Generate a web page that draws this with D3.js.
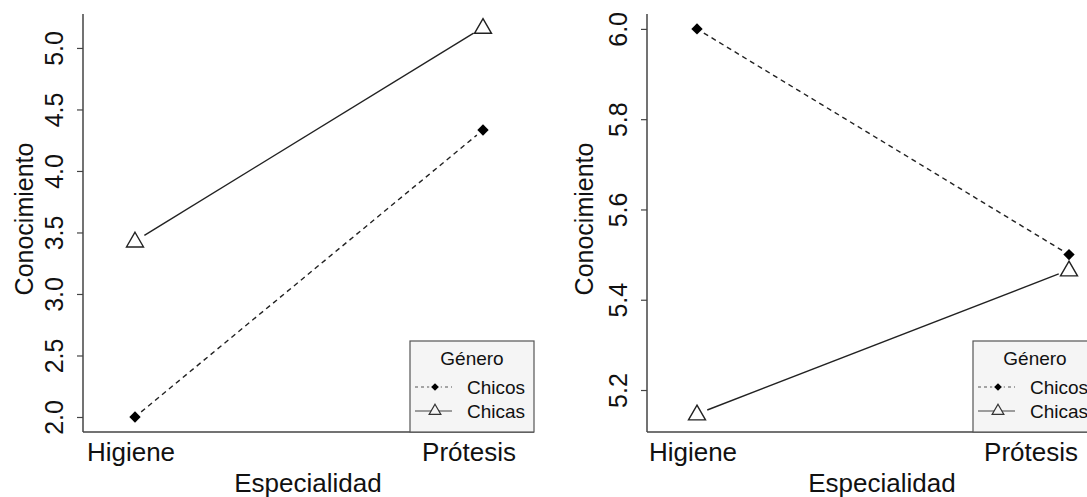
<!DOCTYPE html>
<html>
<head>
<meta charset="utf-8">
<script src="https://cdn.jsdelivr.net/npm/d3@7"></script>
<style>
  html, body { margin: 0; padding: 0; background: #fff; }
  svg { display: block; font-family: "Liberation Sans", Arial, sans-serif; }
</style>
</head>
<body>
<svg id="chart" width="1087" height="497"></svg>
<script>
// Specialties on the x axis
const especialidades = ["Higiene", "Prótesis"];
// Gender groups (legend order)
const generos = ["Chicos", "Chicas"];

// Mean knowledge scores, panel 1
const chicos1 = [2.0, 4.333];
const chicas1 = [3.43, 5.167];
// Mean knowledge scores, panel 2
const chicos2 = [6.0, 5.5];
const chicas2 = [5.147, 5.466];

// Tick labels for the y axes
const ticks1 = [2.0, 2.5, 3.0, 3.5, 4.0, 4.5, 5.0];
const ticks2 = [5.2, 5.4, 5.6, 5.8, 6.0];

const svg = d3.select("#chart");
const axisColor = "#444";
const lineColor = "#222";

function panel(cfg) {
  const g = svg.append("g");
  const x = d3.scalePoint().domain(especialidades).range([cfg.xH, cfg.xP]);
  const y = d3.scaleLinear().domain(cfg.yDomain).range([cfg.bottom, cfg.top]);

  // clip so the legend can run off the page edge
  // y axis with rotated tick labels
  const yAx = d3.axisLeft(y).tickValues(cfg.ticks).tickSize(6).tickFormat(d3.format(".1f"));
  const ya = g.append("g").attr("transform", `translate(${cfg.left},0)`).call(yAx);
  ya.select(".domain").remove();
  ya.selectAll(".tick line").attr("stroke", axisColor).attr("stroke-width", 1.2);
  ya.selectAll(".tick text")
    .attr("x", null).attr("dy", null)
    .attr("transform", `translate(${cfg.tickBase - cfg.left},0) rotate(-90)`)
    .attr("text-anchor", "middle")
    .attr("fill", "#111")
    .style("font-size", "25px")
    .style("font-family", "Liberation Sans, Arial, sans-serif");

  // L-shaped frame
  g.append("line").attr("x1", cfg.left).attr("x2", cfg.left)
    .attr("y1", cfg.top).attr("y2", cfg.bottom)
    .attr("stroke", axisColor).attr("stroke-width", 1.5);
  g.append("line").attr("x1", cfg.left).attr("x2", cfg.right)
    .attr("y1", cfg.bottom).attr("y2", cfg.bottom)
    .attr("stroke", axisColor).attr("stroke-width", 1.5);

  // y axis title
  g.append("text")
    .attr("transform", `translate(${cfg.labBase},${(cfg.top + cfg.bottom) / 2 - 4}) rotate(-90)`)
    .attr("text-anchor", "middle").attr("fill", "#111")
    .style("font-size", "25px").text("Conocimiento");

  // x tick labels
  g.append("text").attr("x", x("Higiene") - 4).attr("y", 461)
    .attr("text-anchor", "middle").attr("fill", "#111")
    .style("font-size", "26px").text("Higiene");
  g.append("text").attr("x", x("Prótesis") + cfg.protShift).attr("y", 461)
    .attr("text-anchor", "end").attr("fill", "#111")
    .style("font-size", "26px").text("Prótesis");

  // x axis title
  g.append("text").attr("x", (cfg.xH + cfg.xP) / 2 - 1).attr("y", 492)
    .attr("text-anchor", "middle").attr("fill", "#111")
    .style("font-size", "26px").text("Especialidad");

  // series lines with small gaps around the points
  const series = [
    { name: "Chicos", vals: cfg.chicos, dash: "5,4", gap: 8 },
    { name: "Chicas", vals: cfg.chicas, dash: null, gap: 11 }
  ];
  series.forEach(s => {
    const x1 = x(especialidades[0]), y1 = y(s.vals[0]);
    const x2 = x(especialidades[1]), y2 = y(s.vals[1]);
    const len = Math.hypot(x2 - x1, y2 - y1);
    const ux = (x2 - x1) / len, uy = (y2 - y1) / len;
    g.append("line")
      .attr("x1", x1 + ux * s.gap).attr("y1", y1 + uy * s.gap)
      .attr("x2", x2 - ux * s.gap).attr("y2", y2 - uy * s.gap)
      .attr("stroke", lineColor).attr("stroke-width", 1.4)
      .attr("stroke-dasharray", s.dash);
  });

  // markers
  const diamond = d3.symbol().type(d3.symbolDiamond2 || d3.symbolSquare).size(90);
  g.selectAll(".chicos").data(cfg.chicos).join("path")
    .attr("d", d3.symbol().type(d3.symbolSquare).size(64)())
    .attr("transform", (d, i) => `translate(${x(especialidades[i])},${y(d)}) rotate(45)`)
    .attr("fill", "#000");
  g.selectAll(".chicas").data(cfg.chicas).join("path")
    .attr("d", d3.symbol().type(d3.symbolTriangle).size(125)())
    .attr("transform", (d, i) => `translate(${x(especialidades[i])},${y(d) + 1})`)
    .attr("fill", "none").attr("stroke", lineColor).attr("stroke-width", 1.4);

  // legend
  const lg = g.append("g").attr("transform", `translate(${cfg.legX},341)`);
  lg.append("rect").attr("x", 0).attr("y", 0).attr("width", 124).attr("height", 91)
    .attr("fill", "#f5f5f5").attr("stroke", "#555").attr("stroke-width", 1.2);
  lg.append("text").attr("x", 62).attr("y", 24).attr("text-anchor", "middle")
    .attr("fill", "#111").style("font-size", "19px").text("Género");
  generos.forEach((name, i) => {
    const yy = 46 + i * 24;
    lg.append("line").attr("x1", 5).attr("x2", 42).attr("y1", yy).attr("y2", yy)
      .attr("stroke", i === 0 ? "#555" : "#444").attr("stroke-width", 1.2)
      .attr("stroke-dasharray", i === 0 ? "3,3" : null);
    if (i === 0) {
      lg.append("rect").attr("x", 20.5).attr("y", yy - 4.5).attr("width", 9).attr("height", 9)
        .attr("transform", `rotate(45,25,${yy})`).attr("fill", "#f5f5f5");
      lg.append("path").attr("d", d3.symbol().type(d3.symbolSquare).size(30)())
        .attr("transform", `translate(25,${yy}) rotate(45)`).attr("fill", "#000");
    } else {
      lg.append("path").attr("d", d3.symbol().type(d3.symbolTriangle).size(60)())
        .attr("transform", `translate(25,${yy})`)
        .attr("fill", "#f5f5f5").attr("stroke", "#333").attr("stroke-width", 1.2);
    }
    lg.append("text").attr("x", 57).attr("y", yy + 7).attr("fill", "#111")
      .style("font-size", "19px").text(name);
  });
}

panel({
  left: 83, right: 534, top: 14, bottom: 432,
  xH: 135, xP: 483,
  yDomain: [1.878, 5.276], ticks: ticks1,
  tickBase: 63, labBase: 33, protShift: 33,
  chicos: chicos1, chicas: chicas1, legX: 410
});
panel({
  left: 647, right: 1090, top: 14, bottom: 432,
  xH: 697, xP: 1069,
  yDomain: [5.107, 6.033], ticks: ticks2,
  tickBase: 627, labBase: 593, protShift: 9,
  chicos: chicos2, chicas: chicas2, legX: 973
});
</script>
</body>
</html>
